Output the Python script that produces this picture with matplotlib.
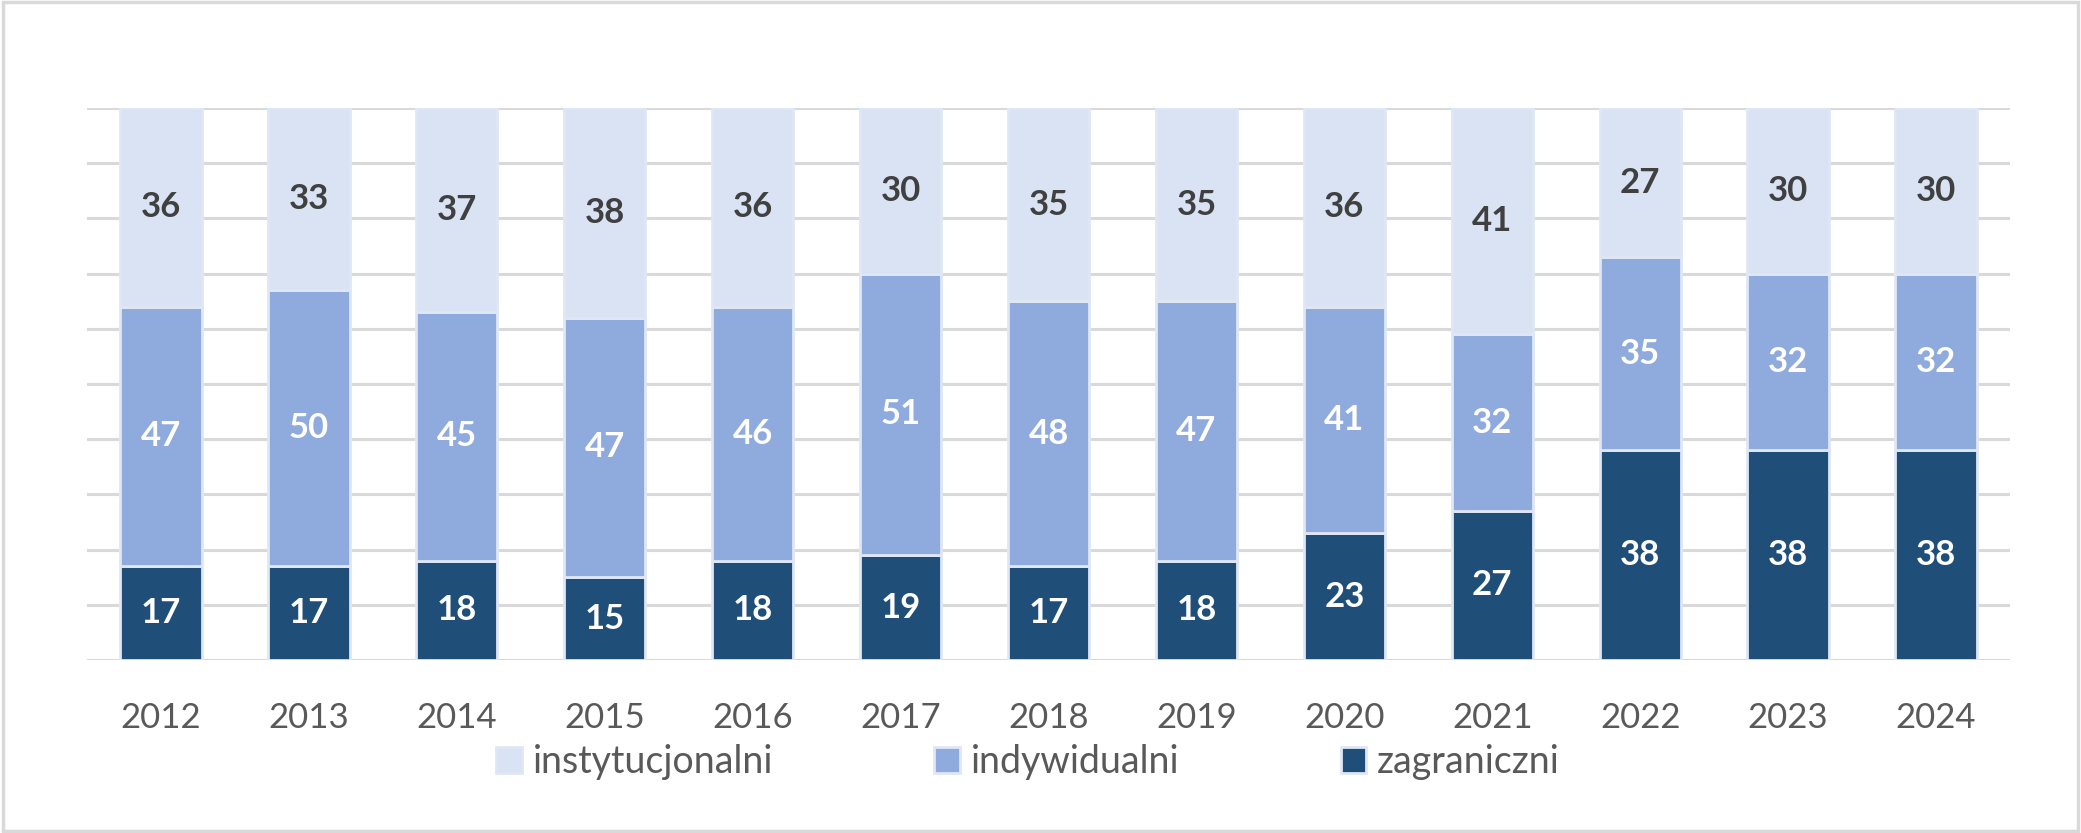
import numpy as np
import matplotlib
matplotlib.use('Agg')
import matplotlib.pyplot as plt
from matplotlib.patches import Rectangle

years = ['2012', '2013', '2014', '2015', '2016', '2017', '2018',
         '2019', '2020', '2021', '2022', '2023', '2024']
zagraniczni = [17, 17, 18, 15, 18, 19, 17, 18, 23, 27, 38, 38, 38]
indywidualni = [47, 50, 45, 47, 46, 51, 48, 47, 41, 32, 35, 32, 32]
instytucjonalni = [36, 33, 37, 38, 36, 30, 35, 35, 36, 41, 27, 30, 30]

plt.rcParams['font.family'] = ['Lato', 'DejaVu Sans']

c_inst = '#dae3f3'
c_ind = '#8faadc'
c_zag = '#1f4e79'
edge = '#dfe7f5'

fig = plt.figure(figsize=(20.81, 8.33), dpi=100)
ax = fig.add_axes([0.0418, 0.2077, 0.9241, 0.6626])

x = np.arange(len(years))
w = 0.55
zag = np.array(zagraniczni)
ind = np.array(indywidualni)
ins = np.array(instytucjonalni)

b1 = ax.bar(x, zag, w, color=c_zag, edgecolor=edge, linewidth=2, zorder=3, label='zagraniczni')
b2 = ax.bar(x, ind, w, bottom=zag, color=c_ind, edgecolor=edge, linewidth=2, zorder=3, label='indywidualni')
b3 = ax.bar(x, ins, w, bottom=zag + ind, color=c_inst, edgecolor=edge, linewidth=2, zorder=3, label='instytucjonalni')

ax.bar_label(b1, labels=[str(v) for v in zag], label_type='center', color='white',
             fontsize=25, fontweight='bold', zorder=4)
ax.bar_label(b2, labels=[str(v) for v in ind], label_type='center', color='white',
             fontsize=25, fontweight='bold', zorder=4)
ax.bar_label(b3, labels=[str(v) for v in ins], label_type='center', color='#404040',
             fontsize=25, fontweight='bold', zorder=4)

ax.set_xlim(-0.5, len(years) - 0.5)
ax.set_ylim(0, 100)
ax.set_yticks(np.arange(0, 101, 10))
ax.yaxis.grid(True, color='#d9d9d9', linewidth=2.2, zorder=0)
ax.set_yticklabels([])
ax.tick_params(axis='y', length=0)
ax.set_xticks(x)
ax.set_xticklabels(years, fontsize=25, color='#595959')
ax.tick_params(axis='x', length=0, pad=30)
for s in ['top', 'right', 'left', 'bottom']:
    ax.spines[s].set_visible(False)

handles = [b3, b2, b1]
leg = fig.legend(handles, ['instytucjonalni', 'indywidualni', 'zagraniczni'],
                 loc='center', bbox_to_anchor=(0.494, 0.085), ncol=3, frameon=False,
                 fontsize=27, handlelength=0.67, handleheight=0.67, handletextpad=0.3,
                 columnspacing=4.3, labelcolor='#595959')

fig.patches.append(Rectangle((0.0015, 0.002), 0.997, 0.996, transform=fig.transFigure,
                             fill=False, edgecolor='#d9d9d9', linewidth=2.5))

fig.savefig('out.png', dpi=100)
